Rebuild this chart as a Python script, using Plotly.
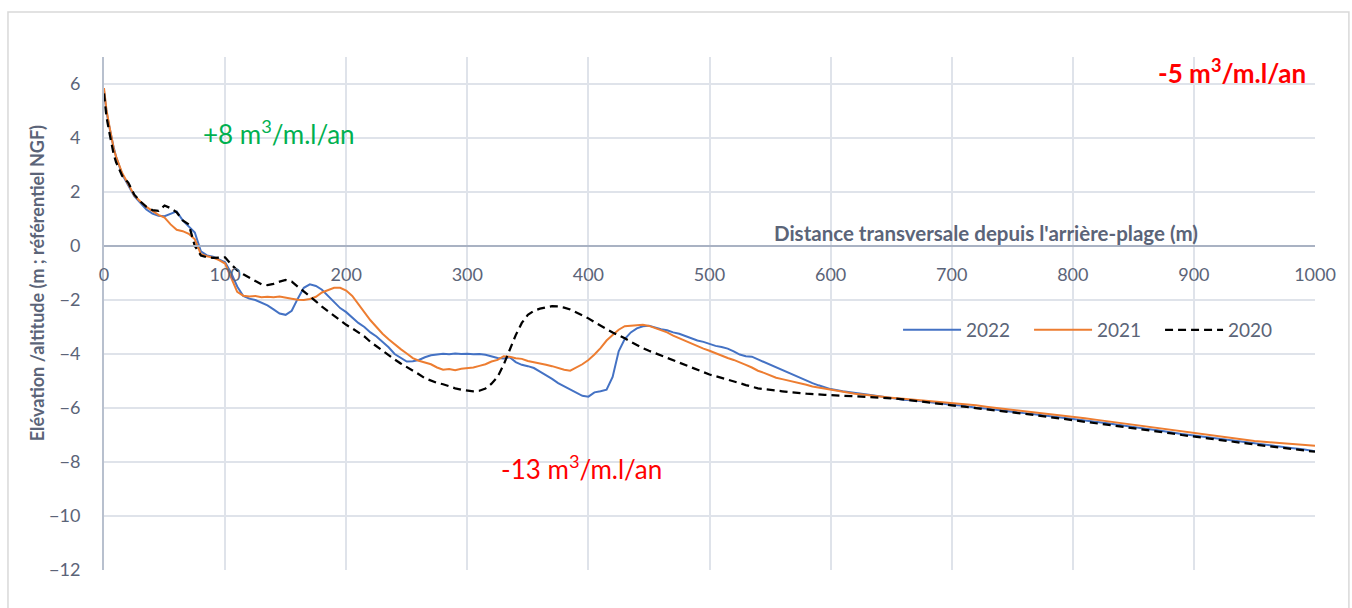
import plotly.graph_objects as go

# Sampling stations along the cross-shore profile (m from the back of the beach)
distance = [0, 2, 4, 6, 8] + list(range(10, 600, 5)) + list(range(600, 1001, 10))

# Surveyed elevations (m, NGF datum)
elev_2022 = (
    [5.75, 5.0, 4.5, 4.0, 3.65]
    + [3.3, 2.65, 2.25, 1.85, 1.6, 1.35, 1.2, 1.12, 1.1, 1.2, 1.28, 0.95, 0.74, 0.5, -0.2, -0.35, -0.4, -0.5]
    + [-0.6, -1.0, -1.5, -1.85, -1.95, -2.0, -2.1, -2.2, -2.35, -2.5, -2.55, -2.4, -1.95, -1.55, -1.42, -1.48, -1.62, -1.85, -2.1, -2.3]
    + [-2.45, -2.65, -2.85, -3.0, -3.2, -3.35, -3.55, -3.75, -4.0, -4.15, -4.28, -4.27, -4.22, -4.12, -4.05, -4.02, -3.99, -4.01, -3.98, -4.0]
    + [-3.99, -4.01, -4.0, -4.03, -4.08, -4.15, -4.17, -4.12, -4.3, -4.4, -4.45, -4.52, -4.65, -4.78, -4.92, -5.08, -5.2, -5.3, -5.45, -5.55]
    + [-5.58, -5.42, -5.38, -5.32, -4.85, -3.9, -3.45, -3.2, -3.05, -2.97, -2.95, -3.02, -3.08, -3.12, -3.2, -3.25, -3.33, -3.4, -3.5, -3.55]
    + [-3.62, -3.7, -3.74, -3.8, -3.9, -4.02, -4.08, -4.1, -4.2, -4.3, -4.38, -4.5, -4.6, -4.68, -4.78, -4.88, -4.98, -5.08, -5.16, -5.22]
    + [-5.3, -5.38, -5.43, -5.5, -5.56, -5.62, -5.69, -5.72, -5.78, -5.84]
    + [-5.88, -5.92, -5.99, -6.03, -6.09, -6.15, -6.19, -6.24, -6.3, -6.34]
    + [-6.4, -6.46, -6.52, -6.57, -6.64, -6.7, -6.77, -6.82, -6.9, -6.96]
    + [-7.02, -7.08, -7.14, -7.2, -7.26, -7.32, -7.38, -7.43, -7.48, -7.53]
    + [-7.6]
)

elev_2021 = (
    [5.85, 5.05, 4.55, 4.0, 3.6]
    + [3.3, 2.7, 2.3, 1.87, 1.65, 1.45, 1.3, 1.15, 1.05, 0.8, 0.6, 0.55, 0.45, 0.25, -0.3, -0.38, -0.43, -0.52]
    + [-0.65, -1.15, -1.7, -1.84, -1.87, -1.85, -1.9, -1.88, -1.9, -1.87, -1.92, -1.95, -1.99, -2.0, -1.96, -1.88, -1.72, -1.62, -1.55, -1.55]
    + [-1.65, -1.85, -2.15, -2.45, -2.75, -3.0, -3.25, -3.45, -3.65, -3.82, -3.98, -4.15, -4.25, -4.32, -4.38, -4.5, -4.58, -4.56, -4.6, -4.55]
    + [-4.52, -4.5, -4.44, -4.38, -4.28, -4.22, -4.08, -4.1, -4.16, -4.18, -4.26, -4.3, -4.36, -4.4, -4.45, -4.52, -4.58, -4.62, -4.5, -4.38]
    + [-4.22, -4.02, -3.78, -3.5, -3.3, -3.1, -2.97, -2.95, -2.92, -2.92, -2.96, -3.05, -3.12, -3.2, -3.32, -3.42, -3.52, -3.6, -3.72, -3.8]
    + [-3.88, -3.98, -4.07, -4.15, -4.22, -4.3, -4.4, -4.5, -4.62, -4.7, -4.8, -4.88, -4.93, -4.98, -5.02, -5.08, -5.14, -5.2, -5.24, -5.28]
    + [-5.32, -5.4, -5.47, -5.52, -5.58, -5.62, -5.66, -5.7, -5.73, -5.77]
    + [-5.8, -5.86, -5.9, -5.96, -6.01, -6.08, -6.13, -6.18, -6.22, -6.28]
    + [-6.33, -6.38, -6.44, -6.5, -6.57, -6.64, -6.7, -6.76, -6.82, -6.88]
    + [-6.94, -7.0, -7.06, -7.11, -7.18, -7.22, -7.26, -7.3, -7.33, -7.37]
    + [-7.4]
)

elev_2020 = (
    [5.65, 4.8, 4.3, 3.8, 3.4]
    + [3.1, 2.6, 2.35, 1.9, 1.65, 1.45, 1.33, 1.3, 1.5, 1.4, 1.25, 0.95, 0.8, 0.0, -0.35, -0.42, -0.44, -0.43]
    + [-0.42, -0.68, -0.9, -1.05, -1.18, -1.3, -1.42, -1.45, -1.4, -1.32, -1.26, -1.32, -1.5, -1.68, -1.85, -2.05, -2.25, -2.42, -2.6, -2.78]
    + [-2.92, -3.05, -3.2, -3.35, -3.55, -3.72, -3.88, -4.05, -4.2, -4.35, -4.48, -4.6, -4.75, -4.9, -5.0, -5.07, -5.12, -5.2, -5.27, -5.32]
    + [-5.36, -5.38, -5.36, -5.28, -5.1, -4.85, -4.4, -3.85, -3.3, -2.85, -2.55, -2.4, -2.32, -2.27, -2.23, -2.24, -2.28, -2.35, -2.45, -2.56]
    + [-2.68, -2.82, -2.96, -3.08, -3.2, -3.3, -3.42, -3.55, -3.68, -3.78, -3.88, -3.97, -4.06, -4.16, -4.25, -4.34, -4.43, -4.52, -4.6, -4.7]
    + [-4.76, -4.82, -4.88, -4.95, -5.02, -5.08, -5.15, -5.22, -5.27, -5.3, -5.32, -5.34, -5.38, -5.41, -5.44, -5.45, -5.47, -5.49, -5.5, -5.51]
    + [-5.52, -5.54, -5.56, -5.58, -5.61, -5.64, -5.68, -5.74, -5.8, -5.85]
    + [-5.9, -5.95, -6.0, -6.05, -6.1, -6.15, -6.2, -6.27, -6.33, -6.39]
    + [-6.45, -6.5, -6.56, -6.62, -6.68, -6.73, -6.79, -6.86, -6.93, -7.0]
    + [-7.06, -7.12, -7.18, -7.25, -7.31, -7.36, -7.41, -7.46, -7.51, -7.56]
    + [-7.62]
)

x_ticks = [0, 100, 200, 300, 400, 500, 600, 700, 800, 900, 1000]
y_ticks = [6, 4, 2, 0, -2, -4, -6, -8, -10, -12]

FONT = "Lato"
TEXT_GREY = "#5B6478"
GRID = "#DFE3EA"
AXIS_LINE = "#A9B2C3"

fig = go.Figure()
fig.add_trace(go.Scatter(x=distance, y=elev_2022, mode="lines", name="2022",
                         line=dict(color="#4472C4", width=2)))
fig.add_trace(go.Scatter(x=distance, y=elev_2021, mode="lines", name="2021",
                         line=dict(color="#ED7D31", width=2)))
fig.add_trace(go.Scatter(x=distance, y=elev_2020, mode="lines", name="2020",
                         line=dict(color="#000000", width=2.25, dash="8px,5px")))

y_min, y_max = -12, 7
fig.update_layout(
    width=1352, height=608,
    margin=dict(l=104, r=37, t=57, b=38),
    paper_bgcolor="white", plot_bgcolor="white",
    font=dict(family=FONT, color=TEXT_GREY, size=18),
    xaxis=dict(
        range=[0, 1000], tickvals=x_ticks, showgrid=True, gridcolor=GRID, gridwidth=2,
        zeroline=False, showline=True, linecolor=AXIS_LINE, linewidth=2,
        anchor="free", position=(0 - y_min) / (y_max - y_min),
        ticks="outside", ticklen=12, tickcolor="rgba(0,0,0,0)",
        tickfont=dict(size=18, color=TEXT_GREY),
    ),
    yaxis=dict(
        range=[y_min, y_max], tickvals=y_ticks, showgrid=True, gridcolor=GRID, gridwidth=2,
        zeroline=False, showline=True, linecolor="#B8C0CE", linewidth=2,
        ticks="outside", ticklen=18, tickcolor="rgba(0,0,0,0)",
        tickfont=dict(size=18, color=TEXT_GREY),
    ),
    legend=dict(
        orientation="h", x=0.6557, y=0.468, xanchor="left", yanchor="middle",
        bgcolor="rgba(0,0,0,0)", font=dict(size=19, color=TEXT_GREY),
        itemwidth=58, entrywidth=58, traceorder="normal",
    ),
    showlegend=True,
)

# Outer chart frame
fig.add_shape(type="rect", xref="paper", yref="paper",
              x0=-0.0793, x1=1.028, y0=-0.08, y1=1.0877,
              line=dict(color="#D9D9D9", width=1.5), fillcolor="rgba(0,0,0,0)", layer="below")

# Axis titles
fig.add_annotation(text="<b>Distance transversale depuis l'arrière-plage (m)</b>",
                   xref="paper", yref="y", x=0.905, y=0, xanchor="right", yanchor="bottom",
                   yshift=-1, showarrow=False, font=dict(size=20.5, color=TEXT_GREY, family=FONT))
fig.add_annotation(text="<b>Elévation /altitude (m ; référentiel NGF)</b>",
                   xref="paper", yref="paper", x=-0.0553, y=0.559, textangle=-90,
                   xanchor="center", yanchor="middle",
                   showarrow=False, font=dict(size=18, color=TEXT_GREY, family=FONT))

# Sediment budget labels
fig.add_annotation(text="+8 m<sup>3</sup>/m.l/an", xref="paper", yref="paper",
                   x=0.1445, y=0.852, xanchor="center", yanchor="middle", showarrow=False,
                   font=dict(size=26, color="#00B050", family=FONT))
fig.add_annotation(text="-13 m<sup>3</sup>/m.l/an", xref="paper", yref="paper",
                   x=0.394, y=0.199, xanchor="center", yanchor="middle", showarrow=False,
                   font=dict(size=26, color="#FF0000", family=FONT))
fig.add_annotation(text="<b>-5 m<sup>3</sup>/m.l/an</b>", xref="paper", yref="paper",
                   x=0.994, y=0.971, xanchor="right", yanchor="middle", showarrow=False,
                   font=dict(size=26, color="#FF0000", family=FONT))

fig.write_html("out.html")
